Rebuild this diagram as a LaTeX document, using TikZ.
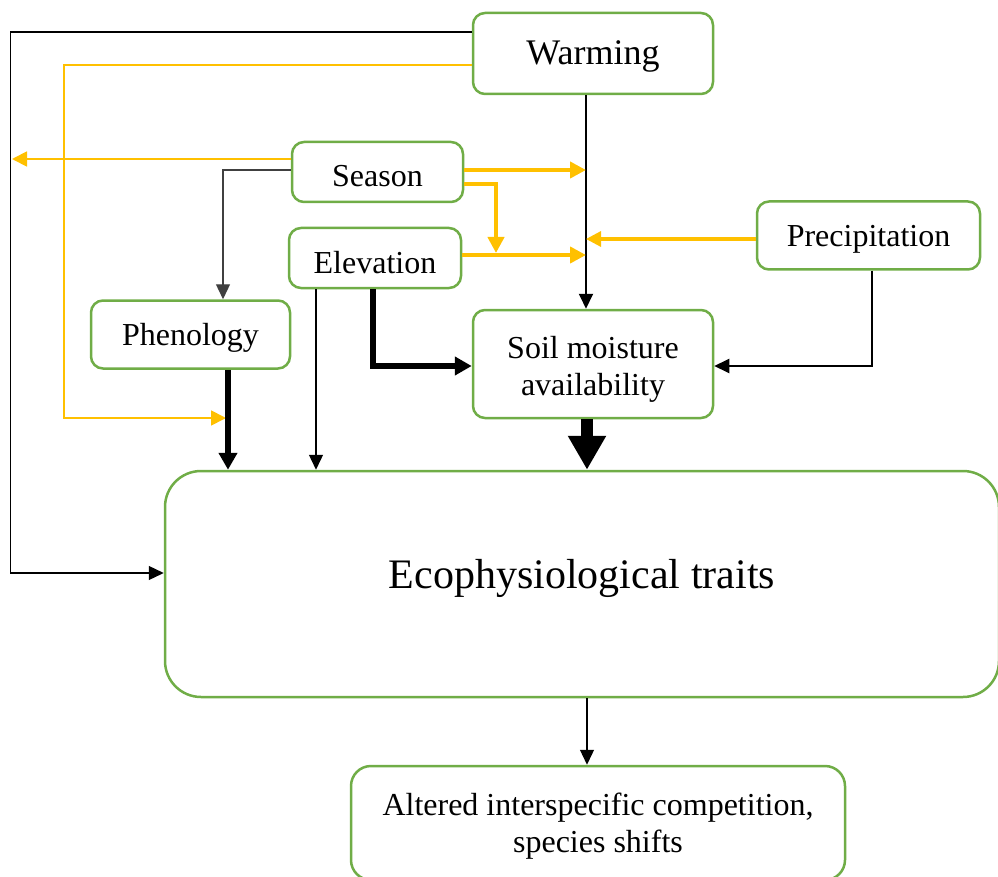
\documentclass[tikz,border=0pt]{standalone}
\usepackage{fontspec}
\setmainfont{Liberation Serif}
\usetikzlibrary{arrows.meta}
\definecolor{boxgreen}{HTML}{70AD47}
\definecolor{amber}{HTML}{FFC000}
\definecolor{darkline}{HTML}{404040}
% box text: first baseline set by the given height and depth
\newcommand{\boxtext}[3]{\raisebox{0pt}[#1][#2]{\begin{tabular}[t]{@{}c@{}}#3\end{tabular}}}
\begin{document}
\begin{tikzpicture}[x=1pt,y=-1pt,
  box/.style={draw=boxgreen, line width=2.5pt, rounded corners=12pt, align=center,
    inner sep=0pt, fill=white, font=\fontsize{32}{37}\selectfont},
  thin/.style={line width=1.3pt, -{Triangle[length=15pt,width=14pt]}},
  med/.style={line width=2pt, -{Triangle[length=15pt,width=14pt]}},
  heavy/.style={line width=6.5pt, -{Triangle[length=17pt,width=18pt]}},
  huge/.style={line width=12pt, -{Triangle[length=34pt,width=36pt]}},
  othin/.style={amber, line width=1.8pt, -{Triangle[length=15pt,width=15pt]}},
  omed/.style={amber, line width=3.2pt, -{Triangle[length=15pt,width=15pt]}},
  othick/.style={amber, line width=4.8pt, -{Triangle[length=16pt,width=16pt]}},
]
\useasboundingbox (0,0) rectangle (998,877);
\clip (0,0) rectangle (998,877);

% boxes
\node[box, minimum width=240pt, minimum height=81pt, font=\fontsize{36}{40}\selectfont] (warm) at (593,53.5) {\boxtext{22pt}{0pt}{Warming}};
\node[box, minimum width=171pt, minimum height=60pt] (season) at (377.5,172) {\boxtext{30pt}{0pt}{Season}};
\node[box, minimum width=172pt, minimum height=60pt] (elev) at (375,258) {\boxtext{31pt}{0pt}{Elevation}};
\node[box, minimum width=223pt, minimum height=68pt] (precip) at (868.5,235.5) {\boxtext{23pt}{0pt}{Precipitation}};
\node[box, minimum width=199pt, minimum height=68pt] (phen) at (190.5,334.5) {\boxtext{21pt}{0pt}{Phenology}};
\node[box, minimum width=240pt, minimum height=108pt] (soil) at (593,364) {\boxtext{0pt}{11pt}{Soil moisture\\availability}};
\node[box, minimum width=834pt, minimum height=226pt, rounded corners=36pt,
      font=\fontsize{42}{46}\selectfont] (eco) at (582,584) {\boxtext{8pt}{0pt}{Ecophysiological traits}};
\node[box, minimum width=494pt, minimum height=114pt, rounded corners=20pt] (alt) at (598,823) {\boxtext{0pt}{16pt}{Altered interspecific competition,\\species shifts}};

% helper points for free ends and junctions
\coordinate (leftend) at (12,159);
\coordinate (phjoin) at (226,418);
\coordinate (wjA) at (586,170);
\coordinate (wjB) at (586,239);
\coordinate (wjC) at (586,255);
\coordinate (eljoin) at (496,253);
\coordinate (elA) at ([xshift=-59pt]elev.south);
\coordinate (phA) at ([xshift=37.5pt]phen.south);
\coordinate (soA) at ([xshift=-6pt]soil.south);
\coordinate (ecA) at ([xshift=5pt]eco.south);

% warming links
\draw[thin] ([yshift=21.5pt]warm.west) -- ++(-461,0) |- ([yshift=11pt]eco.west);
\draw[othin] ([yshift=-11.5pt]warm.west) -- ++(-408,0) |- (phjoin);
\draw[med] ([xshift=-7pt]warm.south) -- ([xshift=-7pt]soil.north);

% season links
\draw[othin] ([yshift=13pt]season.west) -- (leftend);
\draw[thin, darkline] ([yshift=2pt]season.west) -| ([xshift=32.5pt]phen.north);
\draw[othick] ([yshift=2pt]season.east) -- (wjA);
\draw[othick] ([yshift=-12pt]season.east) -| (eljoin);

% elevation links
\draw[othick] ([yshift=3pt]elev.east) -- (wjC);
\draw[thin] (elA) -- (elA |- eco.north);
\draw[heavy] ([xshift=-2pt]elev.south) |- ([yshift=-2pt]soil.west);

% precipitation links
\draw[omed] ([yshift=-3.5pt]precip.west) -- (wjB);
\draw[med] ([xshift=3.5pt]precip.south) |- ([yshift=-2pt]soil.east);

% into the traits box
\draw[heavy] (phA) -- (phA |- eco.north);
\draw[huge] (soA) -- (soA |- eco.north);

% outcome
\draw[thin] (ecA) -- (ecA |- alt.north);
\end{tikzpicture}
\end{document}
